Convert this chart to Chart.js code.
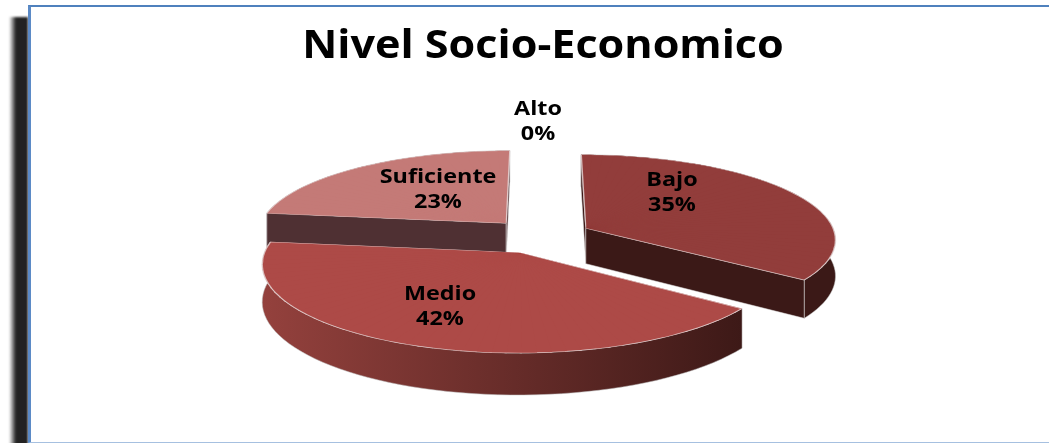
<!DOCTYPE html>
<html lang="es">
<head>
<meta charset="utf-8">
<title>Nivel Socio-Economico</title>
<script src="https://cdn.jsdelivr.net/npm/chart.js@4.4.1/dist/chart.umd.js"></script>
<style>
  html, body { margin: 0; background: #fff; overflow: hidden; }
  #wrap { position: relative; width: 1049px; height: 443px; }
  /* dark drop shadow down the left of the frame */
  #shadow {
    position: absolute; left: 9px; top: 17px; width: 19px; bottom: -10px;
    background: linear-gradient(to right, rgba(34,34,34,0) 0, #222 7px);
    filter: blur(1px);
  }
  #frame {
    position: absolute; left: 28px; top: 5px; width: 1100px; height: 435px;
    background: #fff; border-top: 2px solid #4f81bd; border-left: 3px solid #5b8ac6;
    border-bottom: 1px solid #a6c0e0;
  }
  canvas { position: absolute; left: 0; top: 0; }
</style>
</head>
<body>
<div id="wrap">
  <div id="shadow"></div>
  <div id="frame"></div>
  <canvas id="pie" width="1049" height="443"></canvas>
</div>
<script>
/* ── Data ── */
var chartTitle = 'Nivel Socio-Economico';
var categories = ['Bajo', 'Medio', 'Suficiente', 'Alto'];
var shares = [35, 42, 23, 0];

/* ── Slice colours ── */
var topColors = ['#923d3b', '#ad4a47', '#c47a77', '#d9a5a3'];
var faceColors = ['#3b1917', '#3f1a18', '#4f3033', '#4f3033'];
var rimLeft = ['#3b1917', '#94413d', '#4f3033', '#4f3033'];
var rimRight = ['#3b1917', '#3d1917', '#4f3033', '#4f3033'];

/* ── Text spots for the two-line labels ── */
var labelX = [672, 440, 438, 538];
var labelY = [193, 307, 190, 122];

/* ── Tilted view of the pie plane ── */
var view = { cx: 540, cy: 236, rx: 250, ry: 84, persp: 0.12, depth: 36 };

function project(u, v) {
  var f = 1 / (1 - view.persp * v);
  return { x: view.cx + view.rx * u * f, y: view.cy + view.ry * v * f, drop: view.depth * f };
}

// Affine matrix taking three source points onto three target points
function affine(s, d) {
  var det = (s[1].x - s[0].x) * (s[2].y - s[0].y) - (s[2].x - s[0].x) * (s[1].y - s[0].y);
  function solve(k) {
    var p = ((d[1][k] - d[0][k]) * (s[2].y - s[0].y) - (d[2][k] - d[0][k]) * (s[1].y - s[0].y)) / det;
    var q = ((d[2][k] - d[0][k]) * (s[1].x - s[0].x) - (d[1][k] - d[0][k]) * (s[2].x - s[0].x)) / det;
    return [p, q, d[0][k] - p * s[0].x - q * s[0].y];
  }
  var h = solve('x'), w = solve('y');
  return { a: h[0], c: h[1], e: h[2], b: w[0], d: w[1], f: w[2] };
}

// Where one arc element lands on the tilted plane.
// ArcElement.draw only moves by offset / 4 and pads the radius, so the drawn
// corners are worked out here and pulled onto the wanted plane corners.
function sliceGeometry(arc) {
  var r = arc.outerRadius, off = arc.options.offset || 0;
  var mid = (arc.startAngle + arc.endAngle) / 2;
  var shift = off / 4;
  var fix = 1 - Math.sin(Math.min(Math.PI, arc.circumference));
  var explode = off / r;
  var g = {
    mid: mid,
    drawnR: r + shift * fix,
    drawnApex: { x: arc.x + Math.cos(mid) * shift, y: arc.y + Math.sin(mid) * shift },
    apex: project(Math.cos(mid) * explode, Math.sin(mid) * explode)
  };
  g.drawnAt = function(a) {
    return { x: g.drawnApex.x + g.drawnR * Math.cos(a), y: g.drawnApex.y + g.drawnR * Math.sin(a) };
  };
  g.planeAt = function(a) {
    return project(Math.cos(mid) * explode + Math.cos(a), Math.sin(mid) * explode + Math.sin(a));
  };
  g.rim = [];
  for (var i = 0; i <= 60; i++) {
    g.rim.push(g.planeAt(arc.startAngle + (arc.endAngle - arc.startAngle) * i / 60));
  }
  return g;
}

// A cut face only shows when the slice top lies above its edge
function faceShows(p, q, inside) {
  var edgeY = p.y + (q.y - p.y) * (inside.x - p.x) / (q.x - p.x);
  return inside.y < edgeY;
}

function face(ctx, p, q, color) {
  ctx.beginPath();
  ctx.moveTo(p.x, p.y);
  ctx.lineTo(q.x, q.y);
  ctx.lineTo(q.x, q.y + q.drop);
  ctx.lineTo(p.x, p.y + p.drop);
  ctx.closePath();
  ctx.fillStyle = color;
  ctx.fill();
  ctx.strokeStyle = 'rgba(225,225,225,.55)';
  ctx.lineWidth = 1;
  ctx.stroke();
}

function rimBand(ctx, rim, left, right) {
  var xs = rim.map(function(p) { return p.x; });
  var g = ctx.createLinearGradient(Math.min.apply(null, xs), 0, Math.max.apply(null, xs), 0);
  g.addColorStop(0, left);
  g.addColorStop(1, right);
  ctx.beginPath();
  rim.forEach(function(p, i) {
    if (i) ctx.lineTo(p.x, p.y); else ctx.moveTo(p.x, p.y);
  });
  for (var i = rim.length - 1; i >= 0; i--) ctx.lineTo(rim[i].x, rim[i].y + rim[i].drop);
  ctx.closePath();
  ctx.fillStyle = g;
  ctx.fill();
  ctx.strokeStyle = 'rgba(190,190,190,.5)';
  ctx.lineWidth = 1;
  ctx.stroke();
}

// Canvas has no perspective transform, so the arc is drawn wedge by wedge,
// each thin wedge clipped and given its own affine fit.
// A flat underlay of the same colour hides the seams between wedges.
function drawTop(ctx, arc, g, color) {
  ctx.beginPath();
  ctx.moveTo(g.apex.x, g.apex.y);
  g.rim.forEach(function(p) { ctx.lineTo(p.x, p.y); });
  ctx.closePath();
  ctx.fillStyle = color;
  ctx.fill();
  var steps = Math.ceil(arc.circumference / (Math.PI / 60));
  for (var k = 0; k < steps; k++) {
    var a0 = arc.startAngle + arc.circumference * k / steps;
    var a1 = arc.startAngle + arc.circumference * (k + 1) / steps;
    var m = affine([g.drawnApex, g.drawnAt(a0), g.drawnAt(a1)], [g.apex, g.planeAt(a0), g.planeAt(a1)]);
    ctx.save();
    ctx.transform(m.a, m.b, m.c, m.d, m.e, m.f);
    ctx.beginPath();
    ctx.moveTo(g.drawnApex.x, g.drawnApex.y);
    ctx.arc(g.drawnApex.x, g.drawnApex.y, g.drawnR + 3,
      a0 - (k === 0 ? 0.05 : 0.004), a1 + (k === steps - 1 ? 0.05 : 0.004));
    ctx.closePath();
    ctx.clip();
    arc.draw(ctx);
    ctx.restore();
  }
}

/* ── Draws the arcs as a solid tilted pie, back slices first ── */
var tiltedPie = {
  id: 'tiltedPie',
  beforeDatasetsDraw: function(chart) {
    var ctx = chart.ctx;
    var slices = chart.getDatasetMeta(0).data.map(function(arc, i) {
      return { arc: arc, i: i, geo: sliceGeometry(arc) };
    }).filter(function(s) {
      return s.arc.circumference > 0;
    }).sort(function(p, q) {
      return Math.sin(p.geo.mid) - Math.sin(q.geo.mid);
    });
    slices.forEach(function(s) {
      var g = s.geo, rim = g.rim, first = rim[0], last = rim[rim.length - 1], inside = rim[30];
      rimBand(ctx, rim, rimLeft[s.i], rimRight[s.i]);
      if (faceShows(g.apex, first, inside)) face(ctx, g.apex, first, faceColors[s.i]);
      if (faceShows(g.apex, last, inside)) face(ctx, g.apex, last, faceColors[s.i]);
      drawTop(ctx, s.arc, g, topColors[s.i]);
    });
    return false;
  },
  afterDraw: function(chart) {
    var ctx = chart.ctx;
    ctx.save();
    ctx.fillStyle = '#000';
    ctx.textAlign = 'center';
    ctx.textBaseline = 'middle';
    // Title, stretched a little wider than the face is cut
    ctx.save();
    ctx.translate(543, 47);
    ctx.scale(1.106, 1);
    ctx.font = 'bold 39px "Open Sans"';
    ctx.fillText(chartTitle, 0, 0);
    ctx.restore();
    ctx.font = 'bold 19px "Open Sans"';
    categories.forEach(function(name, i) {
      ctx.save();
      ctx.translate(labelX[i], labelY[i]);
      ctx.scale(1.23, 1);
      ctx.fillText(name, 0, -12);
      ctx.fillText(shares[i] + '%', 0, 13);
      ctx.restore();
    });
    ctx.restore();
  }
};

new Chart(document.getElementById('pie'), {
  type: 'pie',
  data: {
    labels: categories,
    datasets: [{
      data: shares,
      backgroundColor: topColors,
      borderColor: 'rgba(235,225,225,.75)',
      borderWidth: 1,
      offset: 34
    }]
  },
  options: {
    responsive: false,
    animation: false,
    layout: { padding: { left: 37, top: 81 } },
    plugins: {
      legend: { display: false },
      tooltip: { enabled: false }
    }
  },
  plugins: [tiltedPie]
});
</script>
</body>
</html>
